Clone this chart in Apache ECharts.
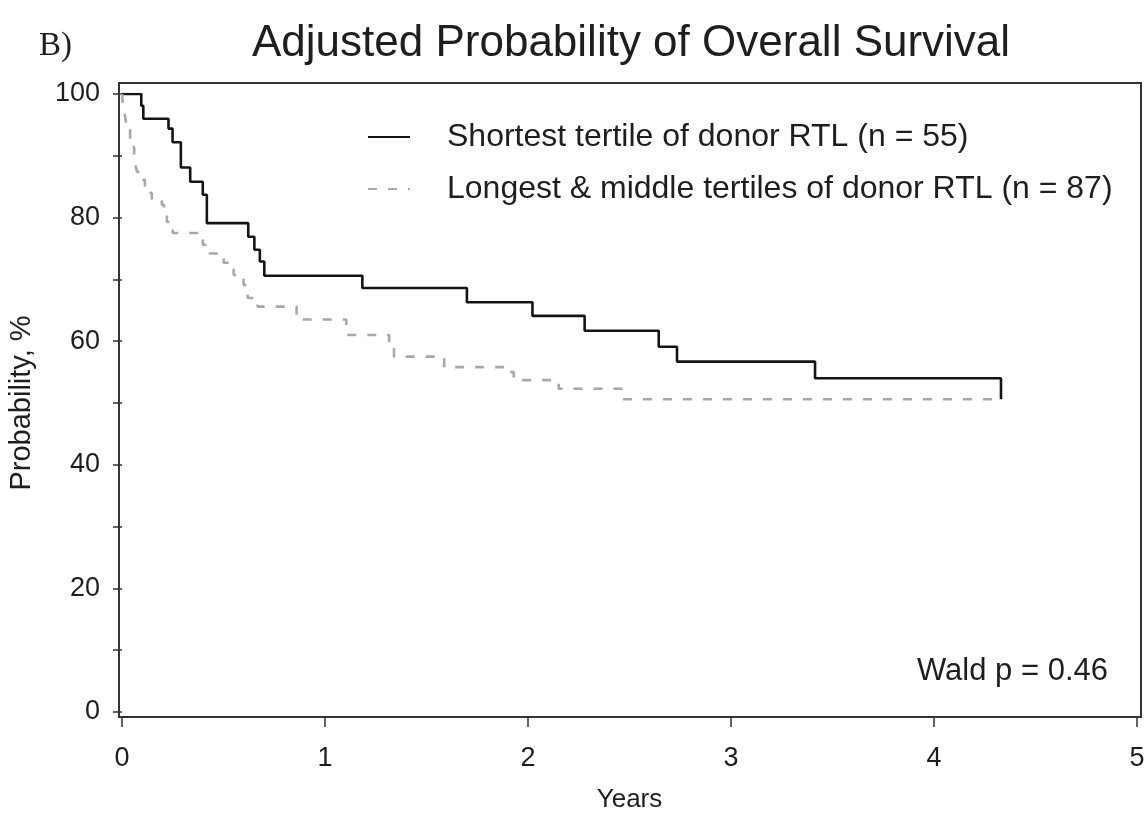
<!DOCTYPE html>
<html>
<head>
<meta charset="utf-8">
<script src="https://cdn.jsdelivr.net/npm/echarts@6/dist/echarts.min.js"></script>
<style>
  html, body { margin: 0; padding: 0; background: #fff; }
  #chart { width: 1148px; height: 816px; }
</style>
</head>
<body>
<div id="chart"></div>
<script>
// survival curves (years, percent)
var shortYears = [0, 0.095, 0.105, 0.229, 0.249, 0.290, 0.336, 0.398, 0.418, 0.622, 0.652, 0.679, 0.701, 1.184, 1.699, 2.022, 2.279, 2.644, 2.734, 3.414, 4.33];
var shortSurv = [100, 98.1, 96.0, 94.4, 92.2, 88.1, 85.8, 83.7, 79.1, 76.9, 74.8, 72.9, 70.6, 68.6, 66.3, 64.1, 61.7, 59.1, 56.7, 54.0, 50.6];

var longYears = [0, 0.005, 0.012, 0.02, 0.03, 0.04, 0.05, 0.06, 0.066, 0.074, 0.098, 0.113, 0.133, 0.147, 0.196, 0.206, 0.221, 0.236, 0.25, 0.398, 0.432, 0.501, 0.55, 0.599, 0.619, 0.668, 0.86, 1.105, 1.316, 1.34, 1.587, 1.896, 1.93, 2.151, 2.466, 4.33];
var longSurv = [100, 98.1, 97.1, 95.5, 94.2, 92.9, 91.4, 90.1, 88.5, 87.4, 86.1, 85.1, 84.0, 83.0, 82.1, 80.7, 79.3, 78.3, 77.5, 75.6, 74.2, 72.7, 70.7, 69.1, 67.0, 65.6, 63.5, 61.0, 59.5, 57.5, 55.8, 55.0, 53.7, 52.3, 50.6, 50.6];

var seriesNames = ['Shortest tertile of donor RTL (n = 55)', 'Longest & middle tertiles of donor RTL (n = 87)'];
var yLabelValues = [0, 20, 40, 60, 80, 100];

function pairs(xs, ys) {
    var res = [];
    for (var i = 0; i < xs.length; i++) {
        res.push([xs[i], ys[i]]);
    }
    return res;
}

var font = '"Liberation Sans", Arial, sans-serif';
var ink = '#1e1e1e';

var chart = echarts.init(document.getElementById('chart'), null, { renderer: 'canvas' });
var option = {
    backgroundColor: '#fff',
    animation: false,
    title: [
        {
            text: 'Adjusted Probability of Overall Survival',
            left: 247,
            top: 17,
            textStyle: { fontFamily: font, fontSize: 44, fontWeight: 'normal', color: ink }
        },
        {
            text: 'B)',
            left: 34,
            top: 25,
            textStyle: { fontFamily: '"Liberation Serif", serif', fontSize: 33, fontWeight: 'normal', color: ink }
        },
        {
            text: 'Wald p = 0.46',
            left: 912,
            top: 651,
            textStyle: { fontFamily: font, fontSize: 31, fontWeight: 'normal', color: ink }
        }
    ],
    legend: {
        orient: 'vertical',
        left: 362,
        top: 116,
        itemWidth: 42,
        itemHeight: 14,
        itemGap: 20,
        selectedMode: false,
        itemStyle: { opacity: 0 },
        textStyle: { fontFamily: font, fontSize: 32, color: ink, padding: [0, 0, 0, 32] },
        data: seriesNames
    },
    grid: [
        // framed box only
        { left: 119, right: 7, top: 83, bottom: 99, outerBoundsMode: 'none', show: true, borderColor: '#333', borderWidth: 2, backgroundColor: 'transparent' },
        // data area: 0..5 years, 0..100 %
        { left: 122, right: 11, top: 94, bottom: 104, outerBoundsMode: 'none' },
        // year axis sitting on the bottom of the frame
        { left: 122, right: 11, top: 94, bottom: 99, outerBoundsMode: 'none' }
    ],
    xAxis: [
        { gridIndex: 0, type: 'value', min: 0, max: 1, show: false },
        { gridIndex: 1, type: 'value', min: 0, max: 5, show: false },
        {
            gridIndex: 2,
            type: 'value',
            min: 0,
            max: 5,
            interval: 1,
            name: 'Years',
            nameLocation: 'middle',
            nameGap: 70,
            nameTextStyle: { fontFamily: font, fontSize: 26, color: ink },
            axisLine: { show: false },
            axisTick: { show: true, inside: false, length: 10, lineStyle: { color: '#333', width: 1.5 } },
            axisLabel: { margin: 28, fontFamily: font, fontSize: 27, color: ink },
            splitLine: { show: false }
        }
    ],
    yAxis: [
        { gridIndex: 0, type: 'value', min: 0, max: 1, show: false },
        {
            gridIndex: 1,
            type: 'value',
            min: 0,
            max: 100,
            interval: 10,
            offset: 3,
            name: 'Probability, %',
            nameLocation: 'middle',
            nameGap: 83,
            nameTextStyle: { fontFamily: font, fontSize: 29, color: ink },
            axisLine: { show: false },
            axisTick: { show: true, inside: false, length: 9, lineStyle: { color: '#333', width: 1.5 } },
            axisLabel: {
                margin: 19,
                fontFamily: font,
                fontSize: 27,
                color: ink,
                formatter: function(v) {
                    return yLabelValues.indexOf(v) >= 0 ? String(v) : '';
                }
            },
            splitLine: { show: false }
        },
        { gridIndex: 2, type: 'value', min: 0, max: 1, show: false }
    ],
    series: [
        {
            name: seriesNames[0],
            type: 'line',
            xAxisIndex: 1,
            yAxisIndex: 1,
            step: 'end',
            symbol: 'none',
            lineStyle: { color: '#141414', width: 2.6 },
            itemStyle: { color: '#141414' },
            data: pairs(shortYears, shortSurv)
        },
        {
            name: seriesNames[1],
            type: 'line',
            xAxisIndex: 1,
            yAxisIndex: 1,
            step: 'end',
            symbol: 'none',
            lineStyle: { color: '#a8a8a8', width: 2.6, type: [9, 11] },
            itemStyle: { color: '#a8a8a8' },
            data: pairs(longYears, longSurv)
        }
    ]
};
chart.setOption(option);
</script>
</body>
</html>
